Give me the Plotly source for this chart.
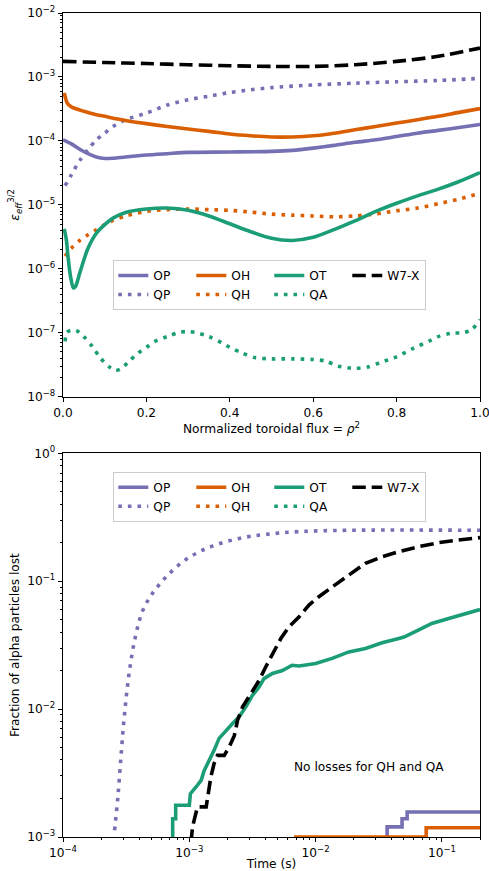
import plotly.graph_objects as go

# ---------------- data: top panel (epsilon_eff^{3/2} vs normalized toroidal flux) -------------
x_w7x = [0.0, 0.1, 0.2, 0.3, 0.4, 0.5, 0.6, 0.7, 0.8, 0.9, 1.0]
y_w7x = [1.75e-3, 1.68e-3, 1.62e-3, 1.55e-3, 1.5e-3, 1.46e-3, 1.46e-3, 1.55e-3, 1.75e-3, 2.1e-3, 2.83e-3]

x_qp = [0.005, 0.02, 0.04, 0.06, 0.08, 0.10, 0.12, 0.15, 0.2, 0.25, 0.3, 0.35, 0.4, 0.45, 0.5, 0.6, 0.7, 0.8, 0.9, 1.0]
y_qp = [1.99e-5, 2.95e-5, 4.9e-5, 7.3e-5, 1.04e-4, 1.32e-4, 1.68e-4, 2.14e-4, 2.72e-4, 3.63e-4, 4.4e-4,
        5.0e-4, 5.7e-4, 6.3e-4, 6.8e-4, 7.5e-4, 8.0e-4, 8.4e-4, 8.8e-4, 9.5e-4]

x_oh = [0.003, 0.006, 0.01, 0.02, 0.05, 0.08, 0.1, 0.15, 0.2, 0.25, 0.3, 0.35, 0.4, 0.45, 0.5, 0.55, 0.6,
        0.65, 0.7, 0.75, 0.8, 0.85, 0.9, 0.95, 1.0]
y_oh = [5.6e-4, 4.7e-4, 3.9e-4, 3.4e-4, 2.9e-4, 2.57e-4, 2.42e-4, 2.09e-4, 1.86e-4, 1.68e-4, 1.53e-4,
        1.41e-4, 1.28e-4, 1.2e-4, 1.15e-4, 1.15e-4, 1.2e-4, 1.32e-4, 1.49e-4, 1.68e-4, 1.9e-4, 2.14e-4,
        2.42e-4, 2.79e-4, 3.2e-4]

x_op = [0.0, 0.02, 0.04, 0.06, 0.08, 0.1, 0.12, 0.15, 0.2, 0.25, 0.3, 0.4, 0.5, 0.55, 0.6, 0.65, 0.7,
        0.75, 0.8, 0.85, 0.9, 0.95, 1.0]
y_op = [1.04e-4, 9.0e-5, 7.4e-5, 6.3e-5, 5.6e-5, 5.3e-5, 5.35e-5, 5.6e-5, 6.0e-5, 6.3e-5, 6.6e-5, 6.7e-5,
        6.85e-5, 7.1e-5, 7.7e-5, 8.5e-5, 9.5e-5, 1.04e-4, 1.17e-4, 1.32e-4, 1.46e-4, 1.62e-4, 1.81e-4]

x_ot = [0.003, 0.008, 0.012, 0.018, 0.025, 0.03, 0.04, 0.05, 0.06, 0.08, 0.1, 0.12, 0.15, 0.2, 0.25, 0.3,
        0.35, 0.4, 0.45, 0.5, 0.55, 0.6, 0.65, 0.7, 0.75, 0.8, 0.85, 0.9, 0.95, 1.0]
y_ot = [4.2e-6, 2.84e-6, 1.56e-6, 7.6e-7, 5.0e-7, 5.3e-7, 8.5e-7, 1.37e-6, 2.1e-6, 3.6e-6, 4.9e-6, 6.2e-6,
        7.6e-6, 8.6e-6, 8.9e-6, 8.2e-6, 6.7e-6, 5.05e-6, 3.8e-6, 3.0e-6, 2.77e-6, 3.1e-6, 4.1e-6, 5.6e-6,
        7.9e-6, 1.06e-5, 1.38e-5, 1.76e-5, 2.32e-5, 3.2e-5]

x_qh = [0.005, 0.02, 0.04, 0.06, 0.08, 0.1, 0.12, 0.15, 0.2, 0.25, 0.3, 0.35, 0.4, 0.45, 0.5, 0.55, 0.6,
        0.65, 0.7, 0.75, 0.8, 0.85, 0.9, 0.95, 1.0]
y_qh = [1.58e-6, 2.1e-6, 2.77e-6, 3.4e-6, 4.07e-6, 4.9e-6, 5.7e-6, 6.7e-6, 7.9e-6, 8.4e-6, 8.6e-6, 8.4e-6,
        8.2e-6, 7.7e-6, 7.15e-6, 6.9e-6, 6.7e-6, 6.5e-6, 6.7e-6, 7.2e-6, 8.07e-6, 8.9e-6, 1.04e-5, 1.23e-5,
        1.52e-5]

x_qa = [0.005, 0.01, 0.03, 0.05, 0.07, 0.09, 0.11, 0.125, 0.14, 0.16, 0.18, 0.2, 0.22, 0.25, 0.28, 0.3,
        0.32, 0.35, 0.38, 0.4, 0.43, 0.46, 0.5, 0.55, 0.6, 0.63, 0.66, 0.7, 0.73, 0.76, 0.8, 0.84, 0.88,
        0.9, 0.93, 0.96, 0.98, 1.0]
y_qa = [7.3e-8, 1.02e-7, 1.1e-7, 8.7e-8, 6.1e-8, 4.0e-8, 2.95e-8, 2.56e-8, 2.75e-8, 3.66e-8, 4.8e-8,
        5.9e-8, 7.3e-8, 8.7e-8, 1.02e-7, 1.04e-7, 1.0e-7, 8.7e-8, 7.0e-8, 5.9e-8, 4.8e-8, 4.08e-8, 3.9e-8,
        3.9e-8, 3.8e-8, 3.6e-8, 3.0e-8, 2.78e-8, 2.9e-8, 3.4e-8, 4.2e-8, 5.7e-8, 7.5e-8, 8.7e-8, 9.8e-8,
        1.0e-7, 1.12e-7, 1.6e-7]

# ---------------- data: bottom panel (fraction of alpha particles lost vs time) ---------------
t_qp = [2.56e-4, 2.72e-4, 2.89e-4, 3.07e-4, 3.36e-4, 3.79e-4, 4.28e-4, 5.1e-4, 6.55e-4, 8.9e-4, 1.2e-3,
        1.62e-3, 2.48e-3, 4.0e-3, 7.4e-3, 1.83e-2, 0.2]
f_qp = [1.13e-3, 2.06e-3, 4.5e-3, 9.2e-3, 2.0e-2, 3.9e-2, 5.9e-2, 8.0e-2, 0.108, 0.142, 0.17, 0.192,
        0.216, 0.232, 0.244, 0.25, 0.25]

t_ot = [7.38e-4, 7.38e-4, 7.8e-4, 7.8e-4, 1.0e-3, 1.02e-3, 1.13e-3, 1.24e-3, 1.31e-3, 1.44e-3, 1.57e-3,
        1.72e-3, 1.95e-3, 2.2e-3, 2.48e-3, 2.8e-3, 3.16e-3, 3.57e-3, 3.9e-3, 4.55e-3, 5.45e-3, 6.5e-3,
        7.4e-3, 1e-2, 1.35e-2, 1.83e-2, 2.48e-2, 3.36e-2, 4.55e-2, 5.0e-2, 6.5e-2, 8.3e-2, 0.113, 0.153, 0.2]
f_ot = [9e-4, 1.39e-3, 1.39e-3, 1.77e-3, 1.77e-3, 2.18e-3, 2.46e-3, 2.77e-3, 3.3e-3, 3.98e-3, 4.76e-3,
        5.9e-3, 6.8e-3, 7.7e-3, 8.7e-3, 1.04e-2, 1.28e-2, 1.49e-2, 1.73e-2, 1.9e-2, 2.0e-2, 2.2e-2,
        2.17e-2, 2.27e-2, 2.49e-2, 2.8e-2, 2.98e-2, 3.3e-2, 3.56e-2, 3.66e-2, 4.14e-2, 4.67e-2, 5.1e-2,
        5.6e-2, 6.0e-2]

t_w7x = [1.03e-3, 1.06e-3, 1.16e-3, 1.36e-3, 1.48e-3, 1.57e-3, 1.67e-3, 1.89e-3, 2.07e-3, 2.27e-3,
         2.41e-3, 2.64e-3, 3.07e-3, 3.57e-3, 4.03e-3, 4.55e-3, 5.3e-3, 6.15e-3, 7.4e-3, 8.85e-3, 1.06e-2,
         1.35e-2, 1.83e-2, 2.48e-2, 3.36e-2, 4.55e-2, 6.5e-2, 9.4e-2, 0.135, 0.2]
f_w7x = [9e-4, 1.2e-3, 1.72e-3, 1.72e-3, 2.94e-3, 3.75e-3, 4.35e-3, 4.35e-3, 5.06e-3, 6.2e-3, 8.2e-3,
         1.04e-2, 1.32e-2, 1.68e-2, 2.14e-2, 2.72e-2, 3.56e-2, 4.4e-2, 5.27e-2, 6.5e-2, 7.55e-2, 9.0e-2,
         0.112, 0.138, 0.155, 0.17, 0.186, 0.2, 0.21, 0.219]

t_op = [3.68e-2, 3.68e-2, 4.83e-2, 5.3e-2, 0.2]
f_op = [9e-4, 1.2e-3, 1.39e-3, 1.57e-3, 1.57e-3]

t_oh = [6.75e-3, 7.5e-2, 0.2]
f_oh = [1.0e-3, 1.18e-3, 1.18e-3]

# QH and QA: no losses (zero everywhere -> nothing visible on a log axis)
t_none = [1e-4, 0.2]
f_qh = [0.0, 0.0]
f_qa = [0.0, 0.0]

# ---------------- ticks / labels ----------------
top_x_ticks = [0.0, 0.2, 0.4, 0.6, 0.8, 1.0]
top_x_text = ["0.0", "0.2", "0.4", "0.6", "0.8", "1.0"]
top_y_ticks = [1e-8, 1e-7, 1e-6, 1e-5, 1e-4, 1e-3, 1e-2]
top_y_text = ["10<sup>\u22128</sup>", "10<sup>\u22127</sup>", "10<sup>\u22126</sup>", "10<sup>\u22125</sup>",
              "10<sup>\u22124</sup>", "10<sup>\u22123</sup>", "10<sup>\u22122</sup>"]
bot_x_ticks = [1e-4, 1e-3, 1e-2, 1e-1]
bot_x_text = ["10<sup>\u22124</sup>", "10<sup>\u22123</sup>", "10<sup>\u22122</sup>", "10<sup>\u22121</sup>"]
bot_y_ticks = [1e-3, 1e-2, 1e-1, 1e0]
bot_y_text = ["10<sup>\u22123</sup>", "10<sup>\u22122</sup>", "10<sup>\u22121</sup>", "10<sup>0</sup>"]

PURPLE = "#7570b3"
ORANGE = "#d95f02"
GREEN = "#1b9e77"
BLACK = "#000000"
LW = 3.6
DOT = "3.6px,6px"
DASH = "13.5px,5.9px"
FONT = "DejaVu Sans"
FS = 12.2


def minor_vals(lo, hi):
    return [k * 10.0 ** e for e in range(lo, hi) for k in range(2, 10)]


fig = go.Figure()

top = [
    ("OP", x_op, y_op, PURPLE, "solid", "g1"),
    ("QP", x_qp, y_qp, PURPLE, DOT, "g1"),
    ("OH", x_oh, y_oh, ORANGE, "solid", "g2"),
    ("QH", x_qh, y_qh, ORANGE, DOT, "g2"),
    ("OT", x_ot, y_ot, GREEN, "solid", "g3"),
    ("QA", x_qa, y_qa, GREEN, DOT, "g3"),
    ("W7-X", x_w7x, y_w7x, BLACK, DASH, "g4"),
]
for name, xs, ys, col, dash, grp in top:
    fig.add_trace(go.Scatter(x=xs, y=ys, name=name, mode="lines",
                             line=dict(color=col, width=LW, dash=dash, shape="spline", smoothing=0.8),
                             legendgroup="t" + grp, legend="legend", xaxis="x", yaxis="y"))

bottom = [
    ("OP", t_op, f_op, PURPLE, "solid", "g1", "hv"),
    ("QP", t_qp, f_qp, PURPLE, DOT, "g1", "spline"),
    ("OH", t_oh, f_oh, ORANGE, "solid", "g2", "hv"),
    ("QH", t_none, f_qh, ORANGE, DOT, "g2", "linear"),
    ("OT", t_ot, f_ot, GREEN, "solid", "g3", "linear"),
    ("QA", t_none, f_qa, GREEN, DOT, "g3", "linear"),
    ("W7-X", t_w7x, f_w7x, BLACK, DASH, "g4", "linear"),
]
for name, xs, ys, col, dash, grp, shp in bottom:
    fig.add_trace(go.Scatter(x=xs, y=ys, name=name, mode="lines",
                             line=dict(color=col, width=LW, dash=dash, shape=shp),
                             legendgroup="b" + grp, legend="legend2", xaxis="x2", yaxis="y2"))

axis_common = dict(showline=True, mirror=True, linecolor="black", linewidth=1, ticks="outside",
                   ticklen=4.3, tickwidth=1, tickcolor="black", showgrid=False, zeroline=False,
                   automargin=False, ticklabeloverflow="allow",
                   tickfont=dict(size=FS, color="black", family=FONT))
minor_common = dict(ticks="outside", ticklen=2.4, tickwidth=0.75, tickcolor="black", showgrid=False)

legend_common = dict(orientation="h", traceorder="grouped", xanchor="left", yanchor="top",
                     bgcolor="rgba(255,255,255,0.8)", bordercolor="#cccccc", borderwidth=1,
                     font=dict(size=FS, color="black", family=FONT), tracegroupgap=0,
                     entrywidth=33, entrywidthmode="pixels")

fig.update_layout(
    width=489, height=871,
    margin=dict(l=63, r=9, t=13, b=34, autoexpand=False),
    paper_bgcolor="white", plot_bgcolor="white",
    font=dict(family=FONT, size=FS, color="black"),
    xaxis=dict(domain=[0, 1], anchor="y", range=[0, 1], tickmode="array", tickvals=top_x_ticks,
               ticktext=top_x_text,
               title=dict(text="Normalized toroidal flux = <i>\u03c1</i><sup>2</sup>", standoff=2,
                          font=dict(size=FS)),
               **axis_common),
    yaxis=dict(domain=[0.5344, 1], anchor="x", type="log", range=[-8, -2], tickmode="array",
               tickvals=top_y_ticks, ticktext=top_y_text,
               minor=dict(tickmode="array", tickvals=minor_vals(-8, -2), **minor_common),
               title=dict(text="<i>\u03b5</i><sub><i>eff</i></sub><sup>3/2</sup>", standoff=4,
                          font=dict(size=FS)),
               **axis_common),
    xaxis2=dict(domain=[0, 1], anchor="y2", type="log", range=[-4, -0.69897], tickmode="array",
                tickvals=bot_x_ticks, ticktext=bot_x_text,
                minor=dict(tickmode="array", tickvals=minor_vals(-4, 0), **minor_common),
                title=dict(text="Time (s)", standoff=8, font=dict(size=FS)),
                **axis_common),
    yaxis2=dict(domain=[0, 0.4657], anchor="x2", type="log", range=[-3, 0], tickmode="array",
                tickvals=bot_y_ticks, ticktext=bot_y_text,
                minor=dict(tickmode="array", tickvals=minor_vals(-3, 0), **minor_common),
                title=dict(text="Fraction of alpha particles lost", standoff=4, font=dict(size=FS)),
                **axis_common),
    legend=dict(x=0.1206, y=0.7002, **legend_common),
    legend2=dict(x=0.1206, y=0.4433, **legend_common),
    annotations=[dict(text="No losses for QH and QA", xref="x2", yref="y2", x=-2.184, y=-2.455,
                      xanchor="left", yanchor="middle", showarrow=False,
                      font=dict(size=FS, color="black", family=FONT))],
)

fig.write_html("out.html", config={"displayModeBar": False},
               post_script="document.body.style.margin='0';document.body.style.overflow='hidden';")
